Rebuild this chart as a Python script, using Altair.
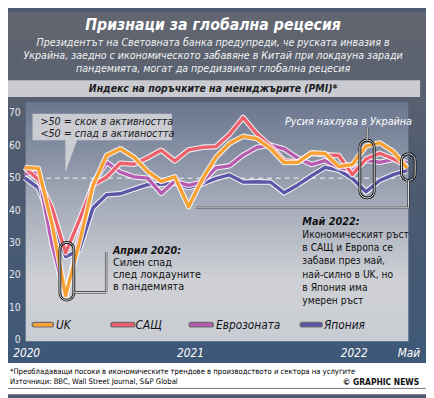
import altair as alt
import pandas as pd

# ---------------- data ----------------
months = list(range(29))  # Jan 2020 .. May 2022
uk = [53.3, 53.0, 36.0, 13.8, 30.0, 47.7, 57.0, 59.1, 56.5, 52.1, 49.0, 50.4,
      41.2, 49.6, 56.4, 60.7, 62.9, 62.2, 59.2, 54.8, 54.9, 57.8, 57.6, 53.6,
      54.2, 59.9, 60.9, 58.2, 53.1]
us = [53.3, 49.6, 40.9, 27.0, 37.0, 47.9, 50.3, 54.6, 54.3, 56.3, 58.6, 55.3,
      58.7, 59.5, 59.7, 63.5, 68.7, 63.7, 59.9, 55.4, 55.0, 57.6, 57.2, 57.0,
      51.1, 55.9, 57.7, 56.0, 53.6]
ez = [51.3, 51.6, 29.7, 13.6, 31.9, 48.5, 54.9, 51.9, 50.4, 50.0, 45.3, 49.1,
      47.8, 48.8, 53.2, 53.8, 57.1, 59.5, 60.2, 59.0, 56.2, 54.2, 55.4, 53.3,
      52.3, 55.5, 54.9, 55.8, 54.8]
jp = [50.1, 47.0, 36.2, 25.8, 27.8, 40.8, 44.9, 45.2, 46.6, 48.0, 48.1, 48.5,
      47.1, 48.2, 49.9, 51.0, 48.8, 48.9, 48.8, 45.5, 47.9, 50.7, 53.3, 52.5,
      49.9, 45.8, 49.3, 51.1, 52.3]
series_names = ["UK", "САЩ", "Еврозоната", "Япония"]
series_values = [uk, us, ez, jp]
series_colors = ["#f7a133", "#ec5f6b", "#b65bb0", "#5a55a6"]
y_ticks = [0, 10, 20, 30, 40, 50, 60, 70]
x_labels = ["2020", "2021", "2022", "Май"]
x_label_months = [0, 12, 24, 28]

title = "Признаци за глобална рецесия"
subtitle = ["Президентът на Световната банка предупреди, че руската инвазия в",
            "Украйна, заедно с икономическото забавяне в Китай при локдауна заради",
            "пандемията, могат да предизвикат глобална рецесия"]
banner = "Индекс на поръчките на мениджърите (PMI)*"
box_lines = [">50 = скок в активността", "<50 = спад в активността"]
april_head = "Април 2020:"
april_lines = ["Силен спад", "след локдауните", "в пандемията"]
may_head = "Май 2022:"
may_lines = ["Икономическият ръст", "в САЩ и Европа се", "забави през май,",
             "най-силно в UK, но", "в Япония има", "умерен ръст"]
invasion = "Русия нахлува в Украйна"
footer = ["*Преобладаващи посоки в икономическите трендове в производството и сектора на услугите",
          "Източници: BBC, Wall Street Journal, S&P Global"]
credit = "© GRAPHIC NEWS"

# ---------------- layout helpers ----------------
FN = "'Liberation Sans Narrow', 'Arial Narrow', 'DejaVu Sans Condensed', 'Liberation Sans', sans-serif"
W, H = 391, 243
xs = alt.Scale(domain=[0, 28.1], nice=False, zero=False)
ys = alt.Scale(domain=[0, 73.5], nice=False, zero=False)


def px_rect(x1, x2, y1, y2, **kw):
    df = pd.DataFrame({"a": [x1], "b": [x2], "c": [y1], "d": [y2]})
    return alt.Chart(df).mark_rect(**kw).encode(
        x=alt.X("a:Q", scale=None), x2="b:Q", y=alt.Y("c:Q", scale=None), y2="d:Q")


def px_rule(x1, x2, y1, y2, **kw):
    df = pd.DataFrame({"a": [x1], "b": [x2], "c": [y1], "d": [y2]})
    return alt.Chart(df).mark_rule(**kw).encode(
        x=alt.X("a:Q", scale=None), x2="b:Q", y=alt.Y("c:Q", scale=None), y2="d:Q")


def px_text(texts, xs_, ys_, **kw):
    df = pd.DataFrame({"t": texts, "px": xs_, "py": ys_})
    return alt.Chart(df).mark_text(font=FN, baseline="middle", **kw).encode(
        x=alt.X("px:Q", scale=None), y=alt.Y("py:Q", scale=None), text="t:N")


layers = []

# outer background gradient
layers.append(px_rect(-17, 409, -92, 266, fill=alt.Gradient(
    gradient="linear", x1=0, x2=0, y1=0, y2=1,
    stops=[alt.GradientStop(color="#62666f", offset=0),
           alt.GradientStop(color="#4f5b70", offset=0.45),
           alt.GradientStop(color="#3d5878", offset=1)])))
# footer
layers.append(px_rect(-17, 409, 266, 298, fill="white"))
layers.append(px_rule(-17, 409, 292, 292, color="#777777", strokeWidth=1))

# title & subtitle
layers.append(px_text([title], [192], [-78], align="center", fontSize=16,
                      fontWeight="bold", fontStyle="italic", color="white"))
layers.append(px_text(subtitle, [192, 192, 192], [-60, -47, -34], align="center",
                      fontSize=10.8, fontStyle="italic", color="#f2f2f2"))
# banner
layers.append(px_rect(-17, 403, -22, -5, fill="#c9cbd0"))
layers.append(px_text([banner], [192], [-13.5], align="center", fontSize=10.6,
                      fontWeight="bold", fontStyle="italic", color="#1c1c22"))

# plot panel
layers.append(px_rect(1, 391, 0, 244, fill=alt.Gradient(
    gradient="linear", x1=0, x2=0, y1=0, y2=1,
    stops=[alt.GradientStop(color="#6a768e", offset=0),
           alt.GradientStop(color="#a8aebb", offset=0.45),
           alt.GradientStop(color="#cfd1d6", offset=0.75),
           alt.GradientStop(color="#c9ccd2", offset=1)])))

# y tick labels
ydf = pd.DataFrame({"v": y_ticks, "t": [str(v) for v in y_ticks]})
layers.append(alt.Chart(ydf).mark_text(font=FN, fontSize=10.5, align="right", baseline="middle",
                                       color="#e4e7ee", dx=-4).encode(
    x=alt.value(0), y=alt.Y("v:Q", scale=ys, axis=None), text="t:N"))

# x labels
xdf = pd.DataFrame({"m": x_label_months, "t": x_labels})
layers.append(alt.Chart(xdf).mark_text(font=FN, fontSize=12, fontStyle="italic", align="center",
                                       baseline="middle", color="white", dx=2).encode(
    x=alt.X("m:Q", scale=xs, axis=None), y=alt.value(256), text="t:N"))

# dashed 50 line
layers.append(alt.Chart(pd.DataFrame({"v": [50]})).mark_rule(
    color="white", strokeDash=[5, 4], strokeWidth=1, opacity=0.9).encode(
    y=alt.Y("v:Q", scale=ys, axis=None), x=alt.value(4), x2=alt.value(391)))

# info box with pointer
layers.append(px_rect(8, 150, 12, 39, fill="#d3d4d8", opacity=0.9))
tri = pd.DataFrame({"a": [41.5, 53.5], "c": [38.5, 38.5], "d": [72, 38.5]})
layers.append(alt.Chart(tri).mark_area(color="#d3d4d8", opacity=0.9).encode(
    x=alt.X("a:Q", scale=None), y=alt.Y("c:Q", scale=None), y2="d:Q"))
layers.append(px_text(box_lines, [16, 16], [21, 33], align="left", fontSize=10.9,
                      fontStyle="italic", color="#1a1a1a"))

# series lines (Japan bottom, UK top)
for name, vals, col in reversed(list(zip(series_names, series_values, series_colors))):
    sdf = pd.DataFrame({"m": months, "v": vals})
    base = alt.Chart(sdf).encode(x=alt.X("m:Q", scale=xs, axis=None),
                                 y=alt.Y("v:Q", scale=ys, axis=None))
    layers.append(base.mark_line(color="white", strokeWidth=5.6, strokeJoin="round", opacity=0.85))
    layers.append(base.mark_line(color=col, strokeWidth=3.4, strokeJoin="round"))

# highlight ellipses (data coordinates)
ell = pd.DataFrame({"x1": [2.58, 24.55, 27.6], "x2": [3.6, 25.6, 28.6],
                    "y1": [12.4, 43.9, 49.3], "y2": [30.2, 61.7, 57.5]})
ebase = alt.Chart(ell).encode(x=alt.X("x1:Q", scale=xs, axis=None), x2="x2:Q",
                              y=alt.Y("y1:Q", scale=ys, axis=None), y2="y2:Q")
layers.append(ebase.mark_rect(fillOpacity=0, stroke="#111111", strokeWidth=2.8, cornerRadius=7))
layers.append(ebase.mark_rect(fillOpacity=0, stroke="white", strokeWidth=0.9, cornerRadius=7))

# connectors
for (a, b, c, d) in [(50, 83, 194, 194), (83, 83, 153, 194), (391, 391, 80, 108),
                     (175, 391, 108, 108), (349, 349, 26, 39)]:
    layers.append(px_rule(a, b, c, d, color="#2a2a2a", strokeWidth=2.4))
    layers.append(px_rule(a, b, c, d, color="white", strokeWidth=1))

# annotation texts
layers.append(px_text([invasion], [330], [20], align="center", fontSize=10.9,
                      fontStyle="italic", color="white"))
layers.append(px_text([april_head], [90], [152], align="left", fontSize=10.8,
                      fontStyle="italic", fontWeight="bold", color="#111111"))
layers.append(px_text(april_lines, [90] * 3, [164, 176.5, 189], align="left",
                      fontSize=11, color="#111111"))
layers.append(px_text([may_head], [283], [122], align="left", fontSize=11,
                      fontStyle="italic", fontWeight="bold", color="#111111"))
layers.append(px_text(may_lines, [283] * 6, [135.5, 149, 162.5, 176, 189.5, 203],
                      align="left", fontSize=10.4, color="#111111"))

# legend
leg = pd.DataFrame({"n": series_names, "c": series_colors,
                    "a": [10, 90, 170, 283], "b": [27, 110, 190, 301],
                    "tx": [32, 113, 195, 305]})
for w, use_col in [(6, False), (3.6, True)]:
    layers.append(alt.Chart(leg).mark_rule(strokeWidth=w, strokeCap="round").encode(
        x=alt.X("a:Q", scale=None), x2="b:Q", y=alt.value(227),
        color=alt.Color("c:N", scale=None) if use_col else alt.value("#6d6d70")))
layers.append(alt.Chart(leg).mark_text(font=FN, fontSize=12, fontStyle="italic", align="left",
                                       baseline="middle", color="#15151c").encode(
    x=alt.X("tx:Q", scale=None), y=alt.value(227), text="n:N"))

# footer texts
layers.append(px_text(footer, [-15, -15], [275, 285], align="left", fontSize=7.8,
                      color="#000000"))
layers.append(px_text([credit], [402], [285], align="right", fontSize=8.6,
                      fontWeight="bold", color="#111111"))

chart = alt.layer(*layers).properties(
    width=W, height=H,
    autosize=alt.AutoSizeParams(type="none"),
    padding={"left": 17, "top": 92, "right": 18, "bottom": 55},
    background="#4d5a72",
).configure_view(strokeWidth=0)

chart.save("out.html", embed_options={"renderer": "svg", "actions": False})
